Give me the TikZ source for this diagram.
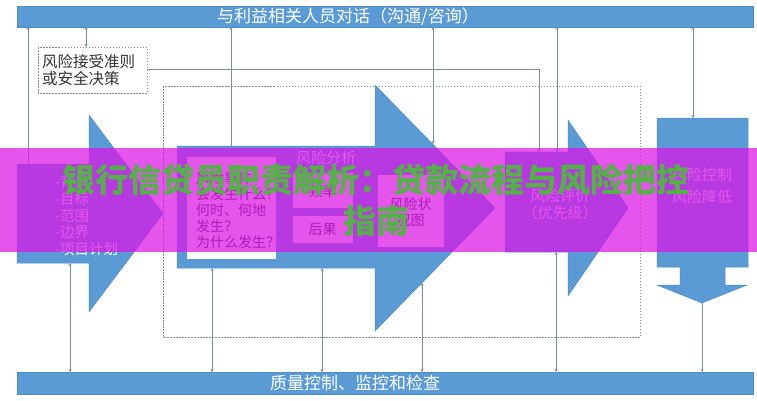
\documentclass[tikz,border=0pt]{standalone}
\usepackage{fontspec}
\newfontfamily\cjk{Noto Sans CJK SC}
\usetikzlibrary{arrows.meta}
\definecolor{fblue}{HTML}{5B9BD5}
\definecolor{eblue}{HTML}{4F8CC4}
\definecolor{lgray}{HTML}{7C8C9C}
\definecolor{dgray}{HTML}{888888}
\definecolor{band}{HTML}{DC14E6}
\definecolor{gtext}{HTML}{55B04A}
\tikzset{
  bar/.style={fill=fblue, draw=eblue, line width=0.6pt},
  shapefill/.style={fill=fblue, draw=eblue, line width=0.5pt},
  dbox/.style={draw=dgray, dashed, dash pattern=on 1.5pt off 1.5pt, line width=0.5pt},
  conn/.style={draw=lgray, line width=0.8pt},
  both/.style={conn, {Stealth[length=3pt,width=3pt]}-{Stealth[length=3pt,width=3pt]}},
  toend/.style={conn, -{Stealth[length=3pt,width=3pt]}},
  wtxt/.style={text=white, font=\cjk\fontsize{15}{17}\selectfont, inner sep=0pt},
  btxt/.style={text=black!80, font=\cjk\fontsize{14}{16.5}\selectfont, inner sep=0pt},
  wbox/.style={fill=white, draw=white},
}
\begin{document}
\begin{tikzpicture}[x=1pt,y=-1pt]
\useasboundingbox (0,0) rectangle (757,400);
\fill[white] (0,0) rectangle (757,400);

% top and bottom bars
\draw[bar] (17,6) rectangle (753,27);
\node[wtxt, font=\cjk\fontsize{17}{19}\selectfont] (toptxt) at (348,17) {与利益相关人员对话（沟通/咨询）};
\draw[bar] (17,372) rectangle (753,394);
\node[wtxt, font=\cjk\fontsize{17}{19}\selectfont] (bottxt) at (355,383) {质量控制、监控和检查};

% inner dashed box
\draw[dbox] (163,86) rectangle (640,337);

% acceptance criteria box
\draw[dbox] (38,47) rectangle (147,93);
\node[btxt, anchor=west, align=left, font=\cjk\fontsize{15.5}{17.5}\selectfont] (accept) at (42,70) {风险接受准则\\或安全决策};

% first arrow
\draw[shapefill] (17,164) -- (89,164) -- (89,115) -- (163,213.5) -- (89,312) -- (89,263) -- (17,263) -- cycle;
\node[wtxt, anchor=north west, align=left, font=\cjk\fontsize{14.5}{16.8}\selectfont] (ctx) at (55,175) {-背景\\-目标\\-范围\\-边界\\-项目计划};

% second arrow
\draw[shapefill] (177,146) -- (375,146) -- (375,85) -- (495,208) -- (375,331) -- (375,268) -- (177,268) -- cycle;
\node[wtxt] (analysis) at (326,158) {风险分析};
\fill[wbox] (187,157) rectangle (275,258);
\node[btxt, anchor=north west, align=left, font=\cjk\fontsize{14}{16}\selectfont] (ident) at (196,171) {风险事件\\会发生什么？\\何时、何地\\发生？\\为什么发生？};
\fill[wbox] (293,173) rectangle (352,207);
\node[btxt] (freq) at (322.5,191) {频率};
\fill[wbox] (293,216) rectangle (352,242);
\node[btxt] (cons) at (322.5,229) {后果};
\fill[wbox] (378,175) rectangle (443,246);
\node[btxt, align=center] (map) at (410.5,212) {风险状\\况图};

% third arrow
\draw[shapefill] (505,152) -- (568,152) -- (568,120) -- (628,208) -- (568,296) -- (568,252) -- (505,252) -- cycle;
\node[wtxt, align=center] (eval) at (560,204) {风险评价\\（优先级）};

% right box arrow
\draw[shapefill] (657,118) -- (748,118) -- (748,267) -- (725,267) -- (725,285) -- (747,285) -- (702,303) -- (657,285) -- (680,285) -- (680,267) -- (657,267) -- cycle;
\node[wtxt, align=center, font=\cjk\fontsize{15}{22}\selectfont] (treat) at (702,186) {风险控制\\风险降低};

% coordinates
\coordinate (a1t) at (28,27);   \coordinate (a1b) at (28,164);
\coordinate (acT) at (86,27);   \coordinate (acB) at (86,47);
\coordinate (a2t) at (231,27);  \coordinate (a2b) at (231,146);
\coordinate (a3t) at (433,27);  \coordinate (a3b) at (433,144);
\coordinate (a4t) at (557,27);  \coordinate (a4b) at (557,152);
\coordinate (a5t) at (693,27);  \coordinate (a5b) at (693,118);
\coordinate (acR) at (147,69);  \coordinate (evT) at (539,152);
\coordinate (b1t) at (70,263);  \coordinate (b1b) at (70,372);
\coordinate (b2t) at (212,268); \coordinate (b2b) at (212,372);
\coordinate (b3t) at (322,268); \coordinate (b3b) at (322,372);
\coordinate (b4t) at (422,283); \coordinate (b4b) at (422,372);
\coordinate (b5t) at (556,252); \coordinate (b5b) at (556,372);
\coordinate (b6t) at (702,303); \coordinate (b6b) at (702,372);

% connectors
\draw[toend] (a1b) -- (a1t);
\draw[both] (acB) -- (acT);
\draw[toend] (a2b) -- (a2t);
\draw[both] (a3b) -- (a3t);
\draw[both] (a4t) -- (a4b);
\draw[both] (a5t) -- (a5b);
\draw[toend] (acR) -| (evT);
\draw[both] (b1t) -- (b1b);
\draw[both] (b2t) -- (b2b);
\draw[both] (b3t) -- (b3b);
\draw[both] (b4t) -- (b4b);
\draw[both] (b5t) -- (b5b);
\draw[toend] (b6t) -- (b6b);

% overlay banner
\fill[band, opacity=0.72] (0,148) rectangle (757,252);
\node[text=gtext, font=\cjk\bfseries\fontsize{33}{41}\selectfont, align=center, inner sep=0pt] (title) at (376,200) {银行信贷员职责解析：贷款流程与风险把控\\指南};
\end{tikzpicture}
\end{document}
